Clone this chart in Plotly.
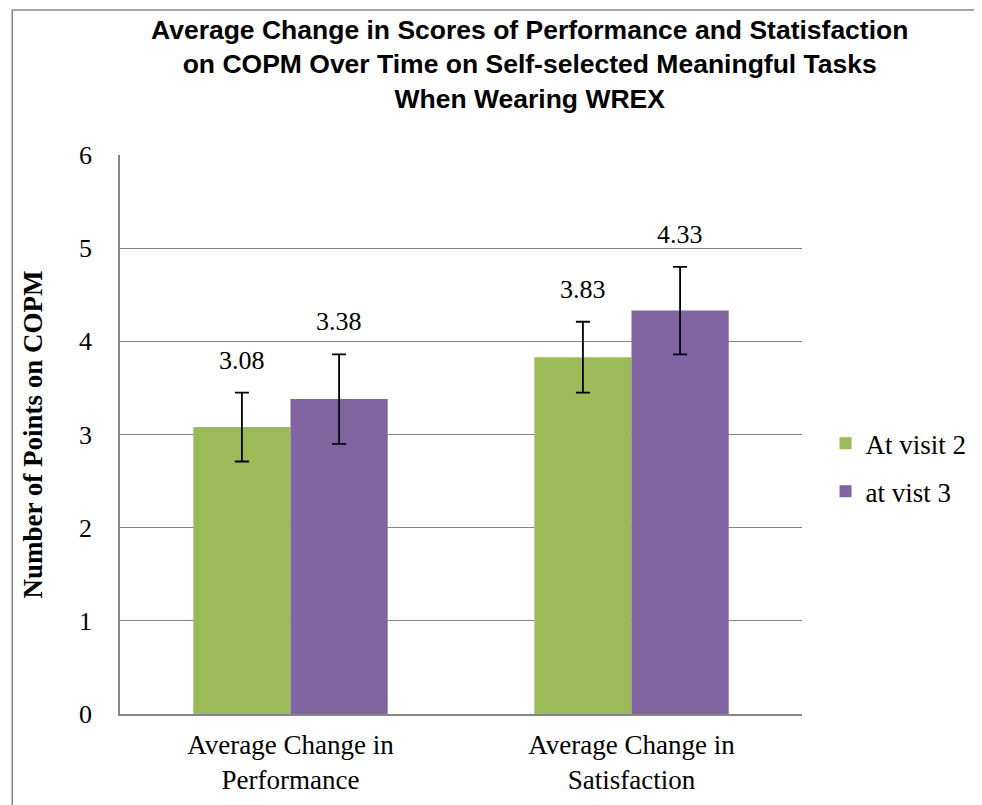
import plotly.graph_objects as go

categories = ["Average Change in<br>Performance", "Average Change in<br>Satisfaction"]
series_names = ["At visit 2", "at vist 3"]
visit2 = [3.08, 3.83]
visit3 = [3.38, 4.33]
err2 = [0.37, 0.38]
err3 = [0.48, 0.47]
yticks = [0, 1, 2, 3, 4, 5, 6]
title_text = ("<b>Average Change in Scores of Performance and Statisfaction<br>"
              "on COPM Over Time on Self-selected Meaningful Tasks<br>When Wearing WREX</b>")

GREEN = "#9BBB59"
PURPLE = "#8064A2"
SERIF = "Liberation Serif, Cambria, serif"
SANS = "Liberation Sans, Arial, sans-serif"

fig = go.Figure()
for name, vals, errs, col in [(series_names[0], visit2, err2, GREEN),
                              (series_names[1], visit3, err3, PURPLE)]:
    fig.add_trace(go.Bar(
        x=categories, y=vals, name=name, legendgroup=name,
        marker=dict(color=col, line=dict(width=0)),
        error_y=dict(type="data", array=errs, visible=True, color="black",
                     thickness=1.8, width=7),
    ))

# data labels above error bars
bar_px = 97.5
for vals, errs, shift in [(visit2, err2, -bar_px / 2), (visit3, err3, bar_px / 2)]:
    for c, v, e in zip(categories, vals, errs):
        fig.add_annotation(x=c, y=v + e, text=f"{v:.2f}", showarrow=False,
                           xshift=shift, yshift=16, yanchor="bottom",
                           font=dict(family=SERIF, size=26, color="black"))

# title as annotation
fig.add_annotation(xref="paper", yref="paper", x=0.600, y=1.254, xanchor="center",
                   yanchor="top", text=title_text, showarrow=False,
                   font=dict(family=SANS, size=26.5, color="black"))

# outer chart border (top and left edges visible in frame)
fig.add_shape(type="path", xref="paper", yref="paper",
              path="M -0.158,-0.3 L -0.158,1.2594 L 1.5,1.2594",
              line=dict(color="#868686", width=1.5), layer="below")

fig.update_layout(
    width=974, height=797,
    margin=dict(l=112, r=179, t=147, b=91),
    paper_bgcolor="white", plot_bgcolor="white",
    barmode="group", bargap=0.43, bargroupgap=0,
    font=dict(family=SERIF, size=25, color="black"),
    legend=dict(x=1.033, y=0.4406, xanchor="left", yanchor="middle",
                font=dict(family=SERIF, size=27), tracegroupgap=10,
                itemsizing="constant", traceorder="grouped"),
    showlegend=True,
)
fig.update_yaxes(range=[0, 6], tickvals=yticks, showgrid=True, gridcolor="#868686",
                 gridwidth=1.3, showline=True, linecolor="#868686", linewidth=1.5,
                 ticks="", ticklen=0, zeroline=False, ticklabelstandoff=21,
                 automargin=False,
                 tickfont=dict(family=SERIF, size=26),
                 title=dict(text="<b>Number of Points on COPM</b>",
                            font=dict(family=SERIF, size=27), standoff=29))
fig.update_xaxes(showline=True, linecolor="#868686", linewidth=1.5, ticks="",
                 automargin=False,
                 ticklabelstandoff=6, tickfont=dict(family=SERIF, size=27))

fig.write_html("out.html")
